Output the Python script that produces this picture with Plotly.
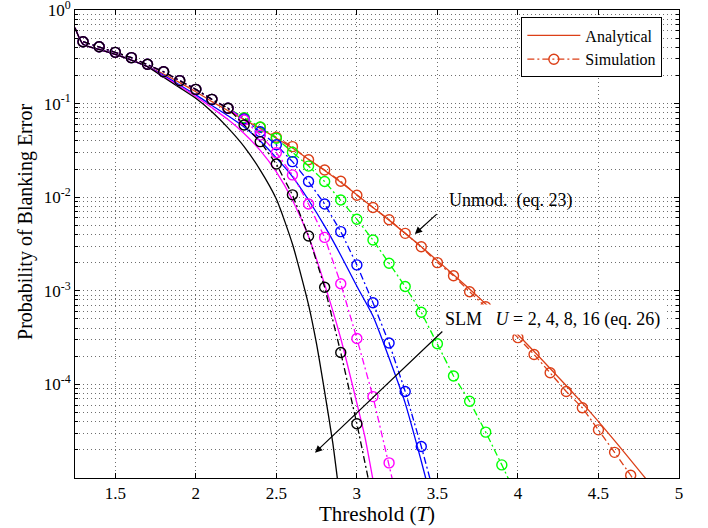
import plotly.graph_objects as go

# ---------------- data ----------------
RED = "#dc3f17"
GREEN = "#00ff00"
BLUE = "#0000ff"
MAGENTA = "#ff00ff"
BLACK = "#000000"

# Simulation thresholds / values (shared start 1.3..2.2)
T_sim_common = [1.3, 1.4, 1.5, 1.6, 1.7, 1.8, 1.9, 2.0, 2.1, 2.2]
P_sim_common = [0.458, 0.405, 0.353, 0.310, 0.263, 0.219, 0.176, 0.142, 0.111, 0.0891]

T_sim_unmod = [2.3, 2.4, 2.5, 2.6, 2.7, 2.8, 2.9, 3.0, 3.1, 3.2, 3.3, 3.4, 3.5, 3.6, 3.7,
               3.8, 3.9, 4.0, 4.1, 4.2, 4.3, 4.4, 4.5, 4.6, 4.7, 4.8]
P_sim_unmod = [0.0697, 0.0558, 0.0437, 0.0347, 0.0251, 0.0195, 0.0148, 0.0105, 7.76e-3, 5.75e-3,
               4.11e-3, 2.95e-3, 2.00e-3, 1.45e-3, 9.77e-4, 6.76e-4, 4.68e-4, 3.16e-4, 2.09e-4,
               1.33e-4, 8.41e-5, 5.62e-5, 3.27e-5, 1.88e-5, 1.07e-5, 5.62e-6]

T_sim_u2 = [2.3, 2.4, 2.5, 2.6, 2.7, 2.8, 2.9, 3.0, 3.1, 3.2, 3.3, 3.4, 3.5, 3.6, 3.7, 3.8, 3.9, 4.0]
P_sim_u2 = [0.0708, 0.0562, 0.0427, 0.0302, 0.0215, 0.0147, 9.33e-3, 5.81e-3, 3.49e-3, 1.97e-3,
            1.11e-3, 5.89e-4, 2.72e-4, 1.23e-4, 6.61e-5, 3.09e-5, 1.38e-5, 6.03e-6]

T_sim_u4 = [2.3, 2.4, 2.5, 2.6, 2.7, 2.8, 2.9, 3.0, 3.1, 3.2, 3.3, 3.4, 3.5]
P_sim_u4 = [0.0684, 0.0501, 0.0363, 0.0240, 0.0147, 8.45e-3, 4.29e-3, 1.89e-3, 7.46e-4, 2.77e-4,
            8.41e-5, 2.17e-5, 5.01e-6]

T_sim_u8 = [2.3, 2.4, 2.5, 2.6, 2.7, 2.8, 2.9, 3.0, 3.1, 3.2, 3.3]
P_sim_u8 = [0.0668, 0.0461, 0.0299, 0.0173, 8.45e-3, 3.72e-3, 1.19e-3, 3.09e-4, 7.41e-5, 1.45e-5, 2.51e-6]

T_sim_u16 = [2.3, 2.4, 2.5, 2.6, 2.7, 2.8, 2.9, 3.0, 3.1]
P_sim_u16 = [0.0590, 0.0392, 0.0226, 0.0106, 3.85e-3, 1.09e-3, 2.19e-4, 3.80e-5, 5.62e-6]

# Analytical curves (shared start 1.25..1.7)
T_ana_common = [1.25, 1.3, 1.4, 1.5, 1.6, 1.7]
P_ana_common = [0.646, 0.431, 0.380, 0.335, 0.292, 0.248]

T_ana_unmod = [1.8, 1.9, 2.0, 2.1, 2.2, 2.3, 2.4, 2.5, 2.6, 2.7, 2.8, 2.9, 3.0, 3.2, 3.4, 3.6,
               3.8, 4.0, 4.2, 4.4, 4.6, 4.8]
P_ana_unmod = [0.207, 0.1675, 0.134, 0.105, 0.0841, 0.0676, 0.0543, 0.0427, 0.0335, 0.0254,
               0.0193, 0.01445, 0.0106, 5.69e-3, 2.95e-3, 1.48e-3, 7.24e-4, 3.39e-4, 1.48e-4,
               6.31e-5, 2.51e-5, 9.55e-6]

T_ana_u4 = [1.8, 1.9, 2.0, 2.1, 2.2, 2.3, 2.4, 2.5, 2.6, 2.7, 2.8, 2.9, 3.0, 3.1, 3.2, 3.3, 3.4, 3.45]
P_ana_u4 = [0.200, 0.158, 0.124, 0.0955, 0.0741, 0.0562, 0.0398, 0.0263, 0.0166, 9.33e-3, 4.90e-3,
            2.40e-3, 1.12e-3, 5.37e-4, 1.91e-4, 6.31e-5, 1.51e-5, 7.08e-6]

T_ana_u8 = [1.8, 1.9, 2.0, 2.1, 2.2, 2.3, 2.4, 2.5, 2.6, 2.7, 2.8, 2.9, 3.0, 3.05, 3.1]
P_ana_u8 = [0.195, 0.153, 0.119, 0.0902, 0.0676, 0.0479, 0.0316, 0.0186, 9.33e-3, 3.80e-3,
            1.17e-3, 3.09e-4, 6.31e-5, 2.75e-5, 9.55e-6]

T_ana_u16 = [1.8, 1.9, 2.0, 2.1, 2.2, 2.3, 2.4, 2.5, 2.6, 2.7, 2.75, 2.8, 2.85, 2.88]
P_ana_u16 = [0.191, 0.148, 0.114, 0.0820, 0.0550, 0.0347, 0.0195, 9.55e-3, 3.16e-3, 7.08e-4,
             2.69e-4, 8.32e-5, 2.40e-5, 9.55e-6]

x_ticks = [1.5, 2, 2.5, 3, 3.5, 4, 4.5, 5]
x_ticktext = ["1.5", "2", "2.5", "3", "3.5", "4", "4.5", "5"]
y_ticks = [1, 1e-1, 1e-2, 1e-3, 1e-4]
y_ticktext = ["10<sup>0</sup>", "10<sup>-1</sup>", "10<sup>-2</sup>", "10<sup>-3</sup>", "10<sup>-4</sup>"]

# ---------------- figure ----------------
FONT = "Liberation Serif, Times New Roman, Times, serif"
SIM_DASH = "7px,3px,2px,3px"
fig = go.Figure()

analytic = [
    ("unmod", RED, T_ana_unmod, P_ana_unmod),
    ("u4", BLUE, T_ana_u4, P_ana_u4),
    ("u8", MAGENTA, T_ana_u8, P_ana_u8),
    ("u16", BLACK, T_ana_u16, P_ana_u16),
]
simulated = [
    ("unmod", RED, T_sim_unmod, P_sim_unmod),
    ("u2", GREEN, T_sim_u2, P_sim_u2),
    ("u4", BLUE, T_sim_u4, P_sim_u4),
    ("u8", MAGENTA, T_sim_u8, P_sim_u8),
    ("u16", BLACK, T_sim_u16, P_sim_u16),
]

for name, col, ta, pa in analytic:
    fig.add_trace(go.Scatter(
        x=T_ana_common + ta, y=P_ana_common + pa, mode="lines",
        line=dict(color=col, width=1.3, shape="spline", smoothing=0.6),
        name="Analytical", showlegend=(name == "unmod"), legendrank=1,
    ))
for name, col, ts, ps in simulated:
    fig.add_trace(go.Scatter(
        x=T_sim_common + ts, y=P_sim_common + ps, mode="lines+markers",
        line=dict(color=col, width=1.3, dash=SIM_DASH),
        marker=dict(symbol="circle-open", size=10, color=col, line=dict(width=1.4, color=col)),
        name="Simulation", showlegend=(name == "unmod"), legendrank=2,
    ))

minor_vals = [m * 10 ** e for e in range(-5, 0) for m in range(2, 10)]
GRID = dict(showgrid=True, gridcolor="#6e6e6e", gridwidth=1, griddash="1px,3px")

fig.update_xaxes(
    range=[1.25, 5], tickvals=x_ticks, ticktext=x_ticktext, automargin=False,
    ticks="inside", ticklen=5, tickcolor="black", showline=True, linecolor="black",
    linewidth=1, mirror="ticks", zeroline=False, tickfont=dict(size=17, family=FONT),
    **GRID,
)
fig.update_yaxes(
    type="log", range=[-5, 0], tickvals=y_ticks, ticktext=y_ticktext, automargin=False,
    ticks="inside", ticklen=5, tickcolor="black", showline=True, linecolor="black",
    linewidth=1, mirror="ticks", zeroline=False, tickfont=dict(size=17, family=FONT),
    ticklabeloverflow="allow",
    minor=dict(tickvals=minor_vals, ticks="inside", ticklen=3, tickcolor="black",
               showgrid=True, gridcolor="#6e6e6e", gridwidth=1, griddash="1px,3px"),
    **GRID,
)

fig.update_layout(
    width=708, height=528,
    margin=dict(l=75, r=29, t=10, b=50, autoexpand=False),
    paper_bgcolor="white", plot_bgcolor="white",
    font=dict(family=FONT, color="black", size=16),
    legend=dict(x=0.739, y=0.984, xanchor="left", yanchor="top",
                bordercolor="black", borderwidth=1, bgcolor="white",
                font=dict(size=16, family=FONT), itemwidth=53,
                tracegroupgap=0),
    showlegend=True,
)

ann = []
ann.append(dict(text="Probability of Blanking Error", xref="paper", yref="paper",
                x=-0.0828, y=0.547, xanchor="center", yanchor="middle", textangle=-90,
                showarrow=False, font=dict(size=20, family=FONT)))
ann.append(dict(text="Threshold (<i>T</i>)", xref="paper", yref="paper",
                x=0.5, y=-0.0765, xanchor="center", yanchor="middle",
                showarrow=False, font=dict(size=21, family=FONT)))
ann.append(dict(text="Unmod.\u00a0\u00a0(eq. 23)", xref="x", yref="y", x=3.956, y=-2.037,
                xanchor="center", yanchor="middle", showarrow=False,
                font=dict(size=18, family=FONT)))
ann.append(dict(text="", xref="x", yref="y", x=3.36, y=-2.393, axref="x", ayref="y",
                ax=3.505, ay=-2.166, showarrow=True, arrowhead=2, arrowsize=1.2,
                arrowwidth=1.2, arrowcolor="black", standoff=0, startstandoff=0))
ann.append(dict(text="SLM\u00a0\u00a0\u00a0<i>U</i> = 2, 4, 8, 16 (eq. 26)", xref="x", yref="y",
                x=4.214, y=-3.31, xanchor="center", yanchor="middle", showarrow=False,
                bgcolor="white", borderpad=4, font=dict(size=18, family=FONT)))
ann.append(dict(text="", xref="x", yref="y", x=2.74, y=-4.73, axref="x", ayref="y",
                ax=3.54, ay=-3.419, showarrow=True, arrowhead=2, arrowsize=1.2,
                arrowwidth=1.2, arrowcolor="black", standoff=0, startstandoff=0))
fig.update_layout(annotations=ann)

fig.write_html("out.html", config={"displayModeBar": False})
